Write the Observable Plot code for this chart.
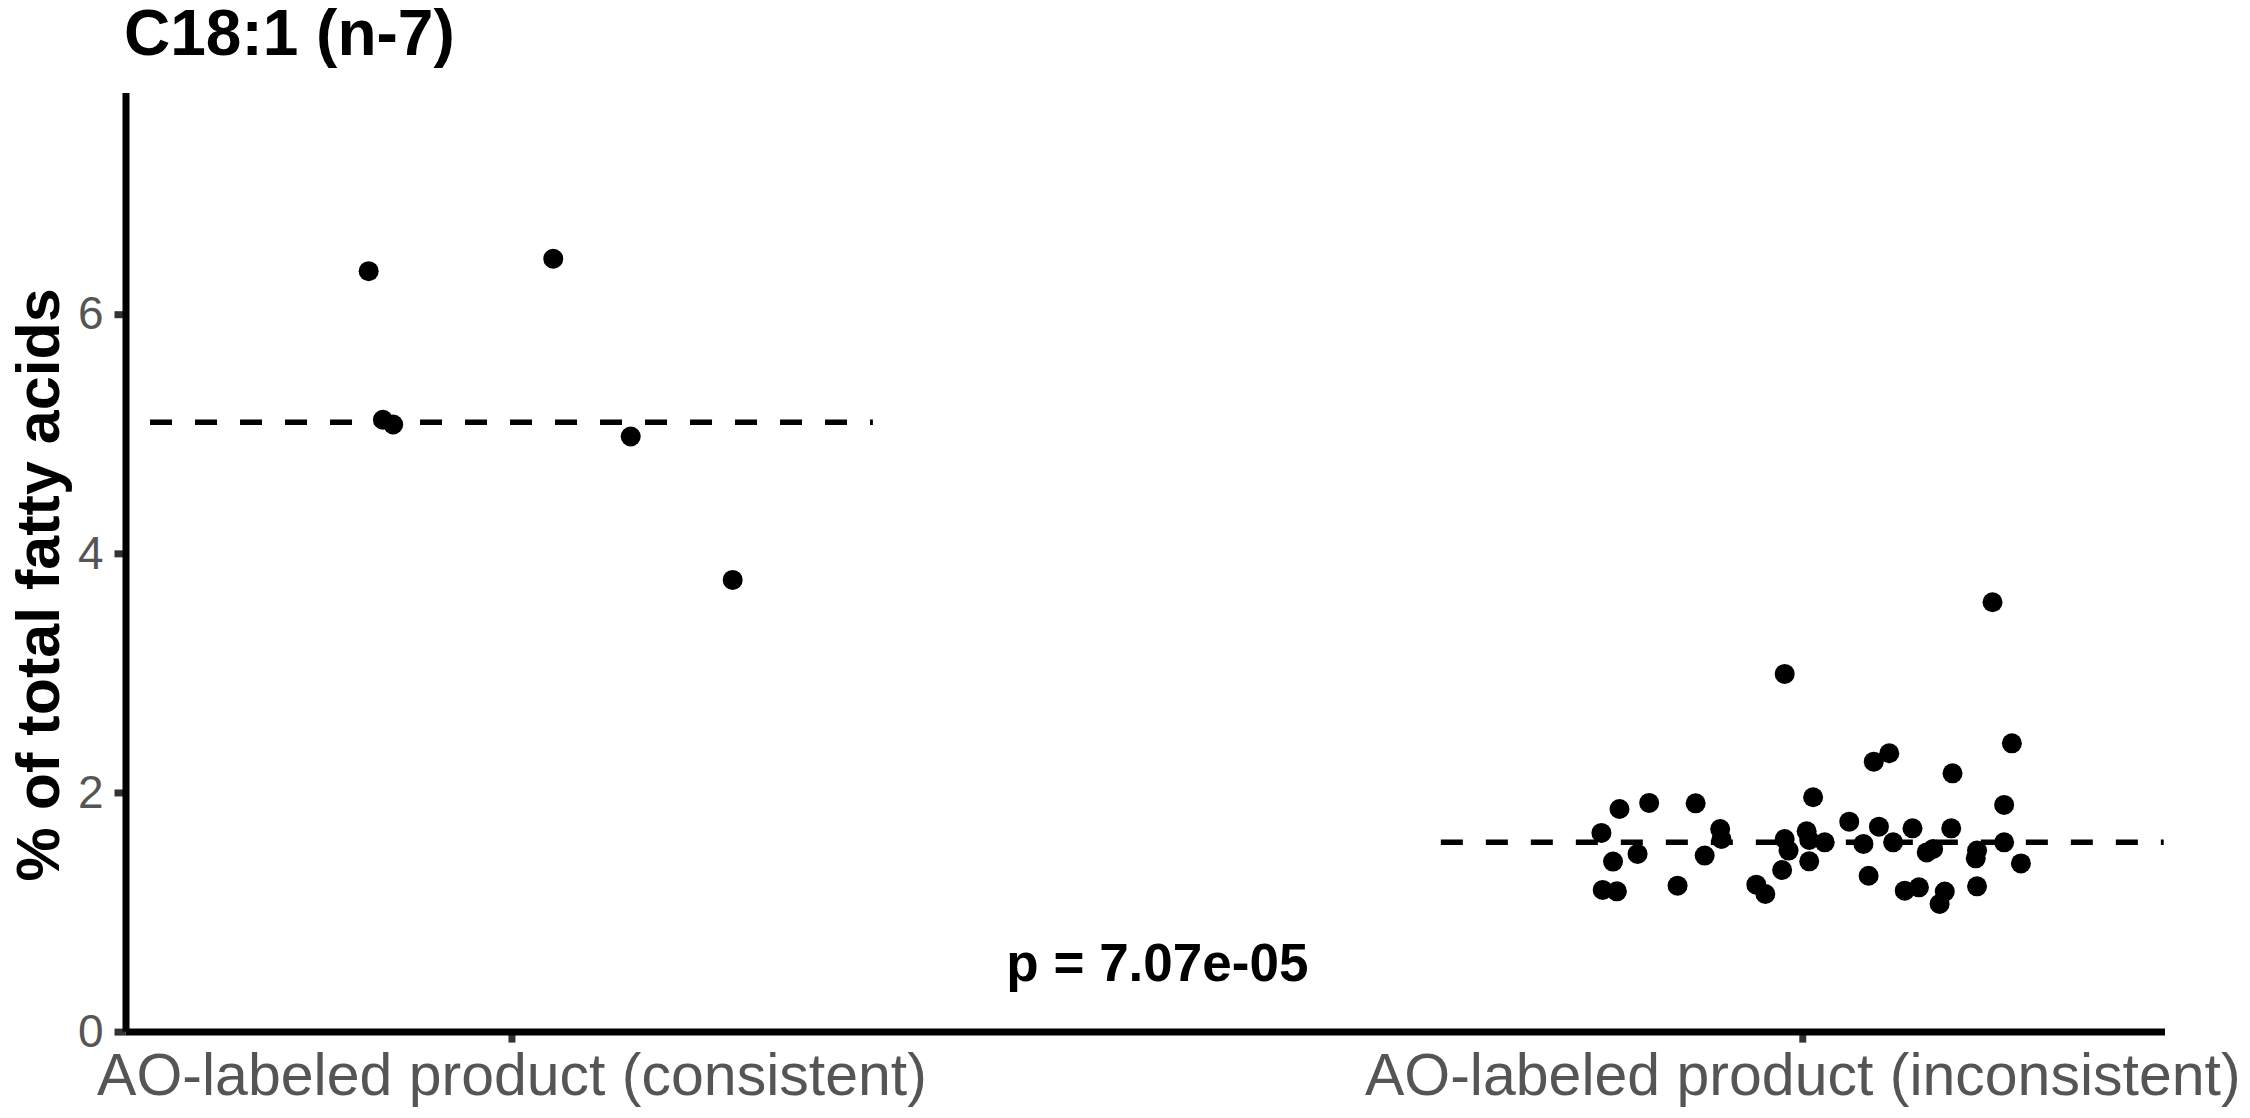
<!DOCTYPE html>
<html>
<head>
<meta charset="utf-8">
<script src="https://cdn.jsdelivr.net/npm/d3@7"></script>
<script src="https://cdn.jsdelivr.net/npm/@observablehq/plot@0.6"></script>
<style>
  html, body { margin: 0; padding: 0; background: #fff; }
  body { width: 2250px; height: 1118px; overflow: hidden; font-family: "Liberation Sans", Arial, sans-serif; }
  #title { height: 80px; box-sizing: border-box; padding-left: 124px; padding-top: 1px;
           font-size: 64px; line-height: 64px; font-weight: bold; color: #000; white-space: nowrap; }
  #chart svg { display: block; }
</style>
</head>
<body>
<div id="title">C18:1 (n-7)</div>
<div id="chart"></div>
<script>
// ---- data ----
const chartTitle = "C18:1 (n-7)";
const yAxisTitle = "% of total fatty acids";
const categories = ["AO-labeled product (consistent)", "AO-labeled product (inconsistent)"];
const yTicks = [0, 2, 4, 6];
const pValueLabel = "p = 7.07e-05";

// % of total fatty acids, per sample
const consistentValues = [6.364, 6.468, 5.121, 5.082, 4.981, 3.782];
// horizontal jitter of each sample (category units)
const consistentJitter = [-0.111, 0.032, -0.100, -0.092, 0.092, 0.171];

const inconsistentValues = [
  2.996, 1.964, 1.866, 1.917, 1.913, 1.666, 1.760, 1.699, 1.615, 1.615,
  1.679, 1.607, 1.587, 1.574, 1.490, 1.426, 1.476, 1.518, 1.428, 1.356,
  1.308, 1.189, 1.177, 1.225, 1.233, 1.155, 3.595, 2.415, 2.332, 2.262,
  2.164, 1.900, 1.718, 1.704, 1.704, 1.587, 1.587, 1.532, 1.503, 1.518,
  1.453, 1.411, 1.183, 1.211, 1.175, 1.072, 1.219
];
const inconsistentJitter = [
  -0.014, 0.008, -0.142, -0.119, -0.083, -0.156, 0.036, -0.064, -0.063, -0.014,
  0.003, 0.005, 0.017, 0.047, -0.128, -0.147, -0.076, -0.011, 0.005, -0.016,
  0.051, -0.155, -0.144, -0.097, -0.036, -0.029, 0.147, 0.162, 0.067, 0.055,
  0.116, 0.156, 0.059, 0.085, 0.115, 0.070, 0.156, 0.101, 0.096, 0.135,
  0.134, 0.169, 0.079, 0.090, 0.110, 0.106, 0.135
];

// ---- build tables ----
const points = [
  ...consistentValues.map((v, i) => ({cat: 1, value: v, jitter: consistentJitter[i]})),
  ...inconsistentValues.map((v, i) => ({cat: 2, value: v, jitter: inconsistentJitter[i]}))
];
const medians = [
  {cat: 1, median: d3.median(consistentValues)},
  {cat: 2, median: d3.median(inconsistentValues)}
];
const halfWidth = 0.28;
const xDomain = [0.701, 2.281];
const yDomain = [0, 7.85];
const font = "Liberation Sans, Arial, sans-serif";

const chart = Plot.plot({
  width: 2250,
  height: 1038,
  marginTop: 13,
  marginBottom: 86.4,
  marginLeft: 125.5,
  marginRight: 85,
  style: {fontFamily: font, background: "#fff"},
  x: {domain: xDomain, axis: null},
  y: {domain: yDomain, axis: null},
  marks: [
    // y ticks + labels
    Plot.axisY({ticks: yTicks, tickSize: 11, tickPadding: 11.5, strokeWidth: 7, stroke: "#333333",
                fill: "#555555", fontSize: 46, label: null, tickFormat: d => String(d)}),
    // x ticks + labels
    Plot.axisX({ticks: [1, 2], tickSize: 11, tickPadding: 10, strokeWidth: 7, stroke: "#333333",
                fill: "#555555", fontSize: 59, label: null, tickFormat: d => categories[d - 1]}),
    // axis lines
    Plot.ruleX([xDomain[0]], {stroke: "#000", strokeWidth: 7}),
    Plot.ruleY([0], {stroke: "#000", strokeWidth: 7}),
    // median dashed lines
    Plot.ruleY(medians, {x1: d => d.cat - halfWidth, x2: d => d.cat + halfWidth, y: "median",
                         stroke: "#000", strokeWidth: 5.5, strokeDasharray: "22,23"}),
    // points
    Plot.dot(points, {x: d => d.cat + d.jitter, y: "value", r: 10, fill: "#000", stroke: null}),
    // p-value
    Plot.text([pValueLabel], {x: () => 1.5, y: () => 0.57, text: d => d, fontSize: 53,
                              fontWeight: "bold", fill: "#000", lineAnchor: "middle"}),
    // y axis title
    Plot.text([yAxisTitle], {frameAnchor: "left", text: d => d, rotate: -90, dx: -87, dy: 22,
                             textAnchor: "middle", fontSize: 61, fontWeight: "bold", fill: "#000",
                             lineAnchor: "middle"})
  ]
});
document.getElementById("chart").appendChild(chart);
</script>
</body>
</html>
